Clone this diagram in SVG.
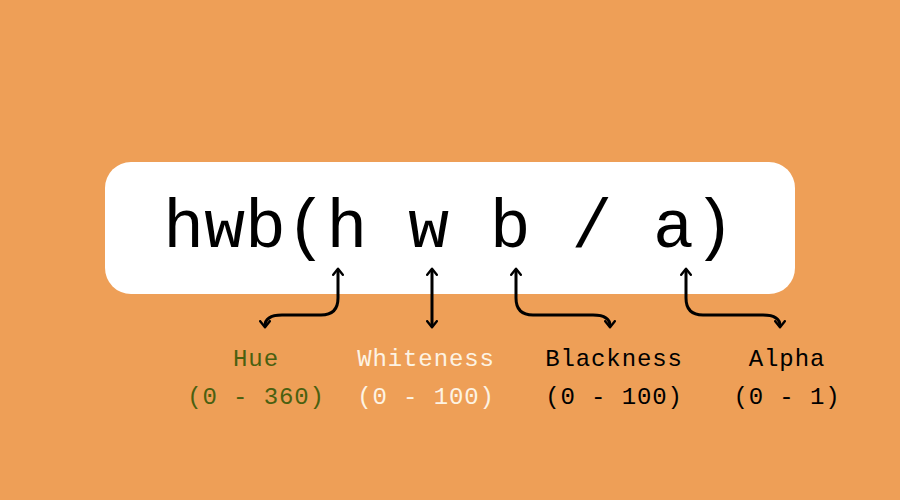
<svg xmlns="http://www.w3.org/2000/svg" width="900" height="500" viewBox="0 0 900 500">
<defs>
<marker id="ah" viewBox="0 0 10 10" refX="5" refY="5" markerWidth="4" markerHeight="4" orient="auto-start-reverse" markerUnits="strokeWidth"><path d="M1,1 L6,5 L1,9" fill="none" stroke="#000" stroke-width="2" stroke-linecap="round" stroke-linejoin="round"/></marker>
</defs>
<style>
.lbl{font-family:"Liberation Mono","Courier New",monospace;font-size:24px;letter-spacing:0.9px;text-anchor:middle}
.c{fill:none;stroke:#000;stroke-width:3;stroke-linecap:round;marker-start:url(#ah);marker-end:url(#ah)}
</style>
<rect width="900" height="500" fill="#EE9F57"/>
<g id="formula">
<rect x="105" y="162" width="690" height="132" rx="26" fill="#fff"/>
<text x="449" y="247" font-family="Liberation Mono,monospace" font-size="68" text-anchor="middle" fill="#000">hwb(h w b / a)</text>
</g>
<g id="connectors">
<path class="c" d="M338,270 V298 Q338,315 321,315 H282 Q265,315 265,326"/>
<path class="c" d="M432,270 V326"/>
<path class="c" d="M516,270 V298 Q516,315 533,315 H593 Q610,315 610,326"/>
<path class="c" d="M686,270 V298 Q686,315 703,315 H763 Q780,315 780,326"/>
</g>
<g id="hue"><text class="lbl" x="256" y="366" fill="#4A6010">Hue</text><text class="lbl" x="256" y="404" fill="#4A6010">(0 - 360)</text></g>
<g id="whiteness"><text class="lbl" x="426" y="366" fill="#FDF3E3">Whiteness</text><text class="lbl" x="426" y="404" fill="#FDF3E3">(0 - 100)</text></g>
<g id="blackness"><text class="lbl" x="614" y="366" fill="#000">Blackness</text><text class="lbl" x="614" y="404" fill="#000">(0 - 100)</text></g>
<g id="alpha"><text class="lbl" x="787" y="366" fill="#000">Alpha</text><text class="lbl" x="787" y="404" fill="#000">(0 - 1)</text></g>
</svg>
